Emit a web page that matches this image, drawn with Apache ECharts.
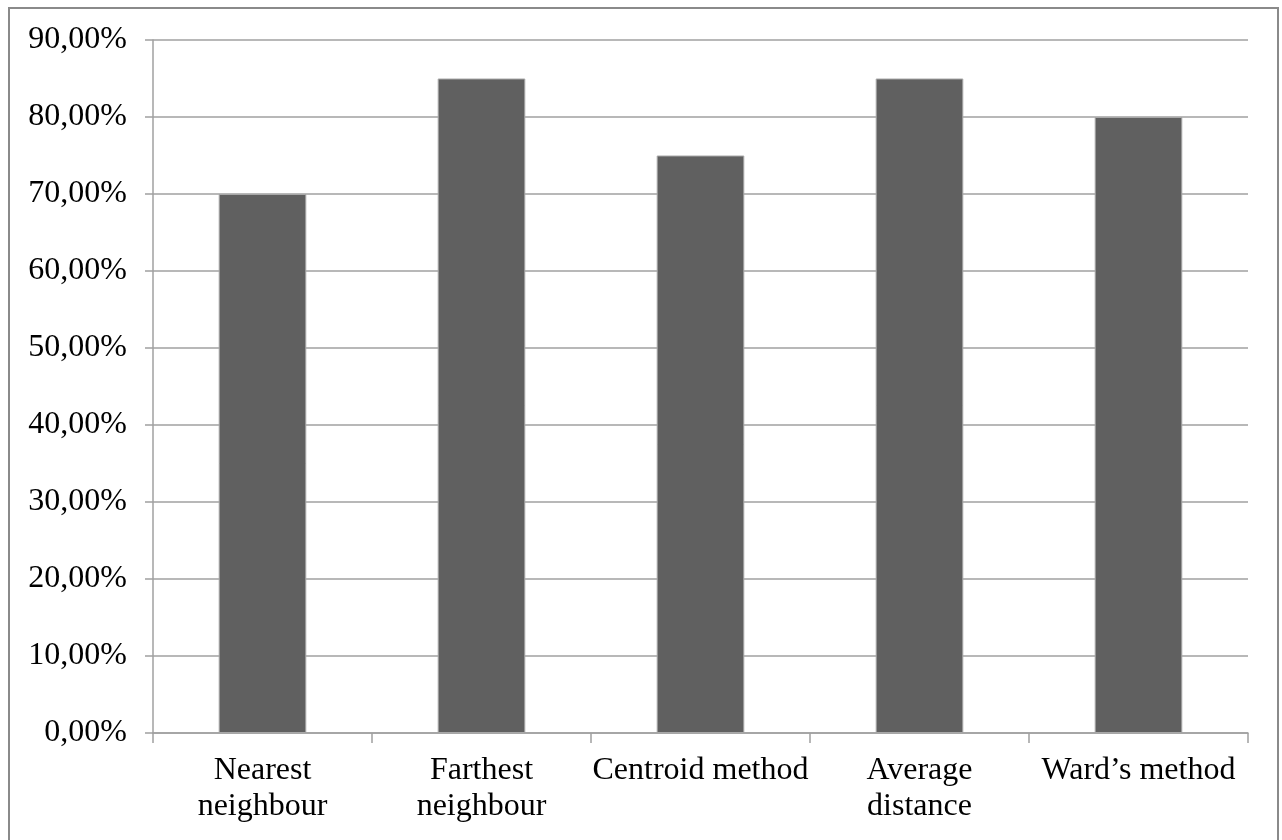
<!DOCTYPE html>
<html>
<head>
<meta charset="utf-8">
<script src="https://cdn.jsdelivr.net/npm/echarts@6/dist/echarts.min.js"></script>
<style>
  html, body { margin: 0; padding: 0; background: #fff; }
  #main { width: 1282px; height: 840px; }
</style>
</head>
<body>
<div id="main"></div>
<script>
// categories and values (percent)
var methods = ['Nearest\nneighbour', 'Farthest\nneighbour', 'Centroid method', 'Average\ndistance', 'Ward\u2019s method']
var accuracy = [70, 85, 75, 85, 80]

var chart = echarts.init(document.getElementById('main'))
var font = '"Liberation Serif", "Times New Roman", serif'

chart.setOption({
  animation: false,
  backgroundColor: '#fff',
  graphic: [{
    type: 'rect',
    shape: { x: 9, y: 8, width: 1269, height: 840 },
    style: { fill: 'none', stroke: '#8a8a8a', lineWidth: 2 },
    silent: true
  }],
  grid: { left: 153, right: 34, top: 40, bottom: 107 },
  xAxis: {
    type: 'category',
    data: methods,
    axisLine: { lineStyle: { color: '#a0a0a0', width: 1.5 } },
    axisTick: { show: true, length: 10, alignWithLabel: false, lineStyle: { color: '#a0a0a0', width: 1.5 } },
    axisLabel: {
      color: '#000', fontFamily: font, fontSize: 32, lineHeight: 36, margin: 20,
      interval: 0
    }
  },
  yAxis: {
    type: 'value',
    min: 0, max: 90, interval: 10,
    axisLine: { show: true, lineStyle: { color: '#a0a0a0', width: 1.5 } },
    axisTick: { show: true, length: 8, lineStyle: { color: '#a0a0a0', width: 1.5 } },
    splitLine: { lineStyle: { color: '#a0a0a0', width: 1.5 } },
    axisLabel: {
      color: '#000', fontFamily: font, fontSize: 32, margin: 26,
      padding: [4, 0, 0, 0],
      formatter: function (v) { return v.toFixed(2).replace('.', ',') + '%' }
    }
  },
  series: [{
    type: 'bar',
    data: accuracy,
    barWidth: '40%',
    itemStyle: { color: '#606060', borderColor: '#a8a8a8', borderWidth: 1 }
  }]
})
</script>
</body>
</html>
